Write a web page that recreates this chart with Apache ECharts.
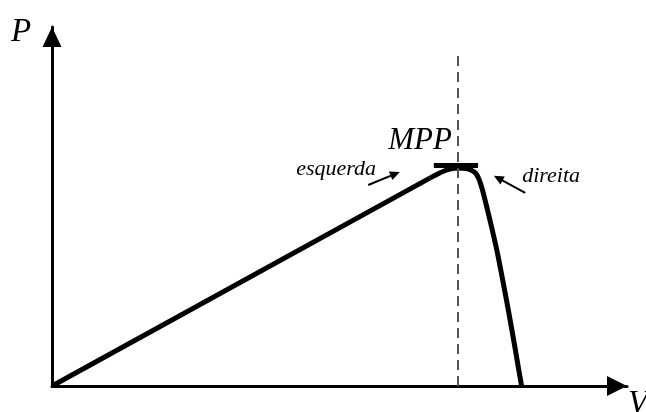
<!DOCTYPE html>
<html>
<head>
<meta charset="utf-8">
<script src="https://cdn.jsdelivr.net/npm/echarts@6/dist/echarts.min.js"></script>
<style>
  html, body { margin: 0; padding: 0; background: #fff; }
  #chart { width: 646px; height: 412px; }
</style>
</head>
<body>
<div id="chart"></div>
<script>
// curva P-V (unidades arbitrarias 0..100)
var voltage = [0, 65.7, 67.0, 68.2, 69.4, 70.61, 72.0, 72.87, 73.65, 74.17, 74.61, 75.10, 75.74, 76.57, 77.36, 78.05, 78.71, 79.36, 79.98, 80.59, 81.18, 81.67]
var power   = [0, 57.9, 59.0, 59.9, 60.5, 60.72, 60.58, 60.17, 59.33, 57.94, 55.99, 53.20, 49.03, 43.45, 37.88, 32.31, 26.74, 21.17, 15.60, 10.03, 4.46, 0]

var mppV = 70.6          // tensao do ponto de maxima potencia
var mppBar = [66.4, 74.1, 61.6]   // inicio, fim, altura da barra MPP
var dashTop = 92.8
var leftArrow = [[55.0, 56.0], [59.7, 59.1]]
var rightArrow = [[82.3, 53.8], [77.6, 57.9]]
var labels = [
  { text: 'MPP', pos: [64.0, 68.2], size: 31 },
  { text: 'esquerda', pos: [49.4, 60.4], size: 22 },
  { text: 'direita', pos: [86.8, 58.4], size: 22 }
]

var serif = '"Liberation Serif", "DejaVu Serif", serif'
var chart = echarts.init(document.getElementById('chart'))

var curve = []
for (var i = 0; i < voltage.length; i++) {
  curve.push([voltage[i], power[i]])
}
// trecho reto ate o joelho, depois a curva suavizada
var straight = curve.slice(0, 2)
var knee = curve.slice(1)

function arrow(a, b) {
  return [
    { coord: a, symbol: 'none' },
    { coord: b, symbol: 'triangle', symbolSize: [9, 10] }
  ]
}

chart.setOption({
  animation: false,
  grid: { left: 52, right: 19, top: 27, bottom: 26, containLabel: false },
  xAxis: {
    type: 'value', min: 0, max: 100,
    axisLine: { show: true, symbol: ['none', 'triangle'], symbolSize: [20, 20], symbolOffset: [0, -10],
      lineStyle: { color: '#000', width: 3 } },
    axisTick: { show: false }, axisLabel: { show: false }, splitLine: { show: false }
  },
  yAxis: {
    type: 'value', min: 0, max: 100,
    axisLine: { show: true, symbol: ['none', 'triangle'], symbolSize: [19, 20], symbolOffset: [0, -10],
      lineStyle: { color: '#000', width: 3 } },
    axisTick: { show: false }, axisLabel: { show: false }, splitLine: { show: false }
  },
  graphic: [
    { type: 'text', x: 21, y: 32, style: { text: 'P', font: 'italic 33px ' + serif, fill: '#000', align: 'center', verticalAlign: 'middle' } },
    { type: 'text', x: 628, y: 404, style: { text: 'V', font: 'italic 33px ' + serif, fill: '#000', align: 'left', verticalAlign: 'middle' } }
  ],
  series: [{
    type: 'line',
    data: straight,
    showSymbol: false,
    lineStyle: { color: '#000', width: 5 }
  }, {
    type: 'line',
    data: knee,
    showSymbol: false,
    smooth: 0.3,
    lineStyle: { color: '#000', width: 5, join: 'round' },
    markLine: {
      silent: true,
      symbol: 'none',
      label: { show: false },
      data: [
        [
          { coord: [mppV, 0], lineStyle: { color: '#555', width: 2, type: [10, 6] } },
          { coord: [mppV, dashTop] }
        ],
        [
          { coord: [mppBar[0], mppBar[2]], lineStyle: { color: '#000', width: 5, type: 'solid' } },
          { coord: [mppBar[1], mppBar[2]] }
        ],
        arrow(leftArrow[0], leftArrow[1]),
        arrow(rightArrow[0], rightArrow[1])
      ],
      lineStyle: { color: '#000', width: 2, type: 'solid' }
    },
    markPoint: {
      silent: true,
      symbol: 'circle',
      symbolSize: 0,
      data: labels.map(function (l) {
        return {
          coord: l.pos,
          label: {
            show: true, position: 'inside', formatter: l.text,
            color: '#000', fontStyle: 'italic', fontFamily: serif, fontSize: l.size
          }
        }
      })
    }
  }]
})
</script>
</body>
</html>
